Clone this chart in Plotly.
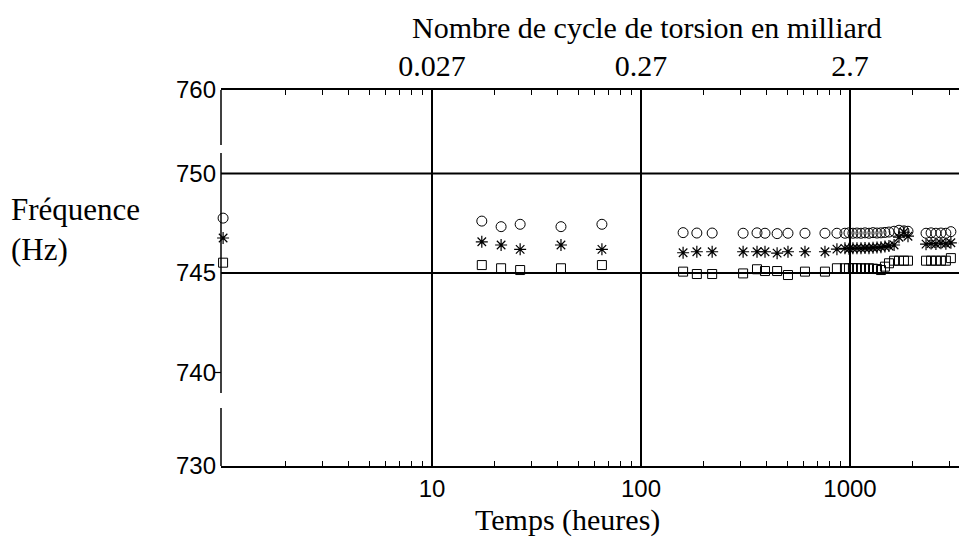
import plotly.graph_objects as go

# ---------------- data ----------------
TIME_H = [1.0, 17.3, 21.4, 26.4, 41.4, 65.0, 159, 185, 219, 308, 359, 392, 448, 505,
          609, 759, 866, 946, 989, 1033, 1080, 1129, 1180, 1233, 1289, 1347, 1407,
          1470, 1537, 1626, 1716, 1812, 1895, 2312, 2444, 2578, 2724, 2877, 3040, 3548]

FREQ_CIRCLE = [747.76, 747.61, 747.33, 747.45, 747.33, 747.45, 747.03, 747.01, 747.01,
               747.0, 747.02, 747.0, 746.98, 747.0, 747.0, 747.0, 747.0,
               747.0, 747.02, 747.0, 747.01, 747.0, 747.02, 747.0, 747.03, 747.01,
               747.02, 747.04, 747.06, 747.1, 747.15, 747.12, 747.1,
               747.0, 747.02, 747.0, 747.01, 747.0, 747.08, 746.92]

FREQ_STAR = [746.76, 746.57, 746.41, 746.19, 746.41, 746.19, 746.02, 746.07, 746.07,
             746.07, 746.07, 746.07, 746.0, 746.07, 746.07, 746.07, 746.2,
             746.24, 746.22, 746.24, 746.25, 746.24, 746.26, 746.25, 746.27, 746.28,
             746.3, 746.33, 746.36, 746.41, 746.8, 747.05, 746.85,
             746.45, 746.48, 746.46, 746.5, 746.47, 746.52, 746.5]

FREQ_SQUARE = [745.52, 745.40, 745.24, 745.15, 745.24, 745.40, 745.07, 744.95, 744.95,
               744.98, 745.19, 745.10, 745.10, 744.90, 745.07, 745.07, 745.24,
               745.24, 745.24, 745.25, 745.24, 745.24, 745.23, 745.24, 745.22, 745.20,
               745.15, 745.32, 745.49, 745.62, 745.62, 745.62, 745.62,
               745.62, 745.62, 745.62, 745.62, 745.62, 745.75, 745.69]

X_TICKS = [10, 100, 1000]
X_TICK_TEXT = ["10", "100", "1000"]
TOP_TICK_TEXT = ["0.027", "0.27", "2.7"]
X_MINOR = [2, 3, 4, 5, 6, 7, 8, 9, 20, 30, 40, 50, 60, 70, 80, 90,
           200, 300, 400, 500, 600, 700, 800, 900, 2000, 3000]

Y_TICKS = [735.3, 740, 745, 750, 754.2]
Y_TICK_TEXT = ["730", "740", "745", "750", "760"]
Y_GRID = [745, 750]
Y_SMALL_TICK = [740]
# left axis line drawn in pieces (the original axis is broken)
Y_AXIS_SEGMENTS = [(754.2, 751.43), (751.03, 738.97), (738.22, 735.3)]

X_RANGE = [-0.01, 3.56]
Y_RANGE = [735.3, 754.2]

SERIF = "Liberation Serif, Times New Roman, serif"
SANS = "Liberation Sans, Arial, sans-serif"

fig = go.Figure()

fig.add_trace(go.Scatter(x=TIME_H, y=FREQ_CIRCLE, mode="markers", cliponaxis=False,
                         marker=dict(symbol="circle-open", size=10, color="black",
                                     line=dict(width=1, color="black")),
                         showlegend=False))
fig.add_trace(go.Scatter(x=TIME_H, y=FREQ_STAR, mode="markers", cliponaxis=False,
                         marker=dict(symbol="asterisk-open", size=10, color="black",
                                     line=dict(width=1.2, color="black")),
                         showlegend=False))
fig.add_trace(go.Scatter(x=TIME_H, y=FREQ_SQUARE, mode="markers", cliponaxis=False,
                         marker=dict(symbol="square-open", size=9, color="black",
                                     line=dict(width=1, color="black")),
                         showlegend=False))
# empty trace to anchor the top axis
fig.add_trace(go.Scatter(x=[], y=[], xaxis="x2", yaxis="y", showlegend=False,
                         hoverinfo="skip"))

shapes = []
for yv in Y_GRID:
    shapes.append(dict(type="line", xref="paper", yref="y", x0=0, x1=1, y0=yv, y1=yv,
                       line=dict(color="black", width=2), layer="below"))
for y0, y1 in Y_AXIS_SEGMENTS:
    shapes.append(dict(type="line", xref="paper", yref="y", x0=0, x1=0, y0=y0, y1=y1,
                       line=dict(color="black", width=1.5)))
for yv in Y_SMALL_TICK:
    shapes.append(dict(type="line", xref="paper", yref="y", x0=-0.009, x1=0, y0=yv, y1=yv,
                       line=dict(color="black", width=1.2)))

fig.update_layout(
    width=959, height=538,
    margin=dict(l=213, r=0, t=82, b=80, autoexpand=False),
    paper_bgcolor="white", plot_bgcolor="white",
    shapes=shapes,
    xaxis=dict(type="log", range=X_RANGE, tickvals=X_TICKS, ticktext=X_TICK_TEXT,
               showgrid=True, gridcolor="black", gridwidth=2, ticks="",
               showline=True, linecolor="black", linewidth=1.5, zeroline=False,
               tickfont=dict(family=SANS, size=24, color="black"),
               ticklabelstandoff=0,
               minor=dict(tickvals=X_MINOR, ticks="inside", ticklen=5, tickwidth=1,
                          tickcolor="black", showgrid=False)),
    xaxis2=dict(type="log", range=X_RANGE, overlaying="x", side="top", anchor="y",
                tickvals=X_TICKS, ticktext=TOP_TICK_TEXT, showgrid=False, ticks="",
                showline=True, linecolor="black", linewidth=1.5, zeroline=False,
                tickfont=dict(family=SERIF, size=30, color="black"),
                ticklabelstandoff=0,
                minor=dict(tickvals=X_MINOR, ticks="inside", ticklen=5, tickwidth=1,
                           tickcolor="black", showgrid=False)),
    yaxis=dict(range=Y_RANGE, tickvals=Y_TICKS, ticktext=Y_TICK_TEXT, showgrid=False,
               showline=False, ticks="", zeroline=False,
               tickfont=dict(family=SANS, size=24, color="black"),
               ticklabelstandoff=4),
    annotations=[
        dict(text="Fréquence<br>(Hz)", xref="paper", yref="paper", x=-0.284, y=0.628,
             xanchor="left", yanchor="middle", align="left", showarrow=False,
             font=dict(family=SERIF, size=31, color="black")),
        dict(text="Temps (heures)", xref="paper", yref="paper", x=0.465, y=-0.144,
             xanchor="center", yanchor="middle", showarrow=False,
             font=dict(family=SERIF, size=30, color="black")),
        dict(text="Nombre de cycle de torsion en milliard", xref="paper", yref="paper",
             x=0.571, y=1.165, xanchor="center", yanchor="middle", showarrow=False,
             font=dict(family=SERIF, size=30, color="black")),
    ],
)

fig.write_html("out.html")
